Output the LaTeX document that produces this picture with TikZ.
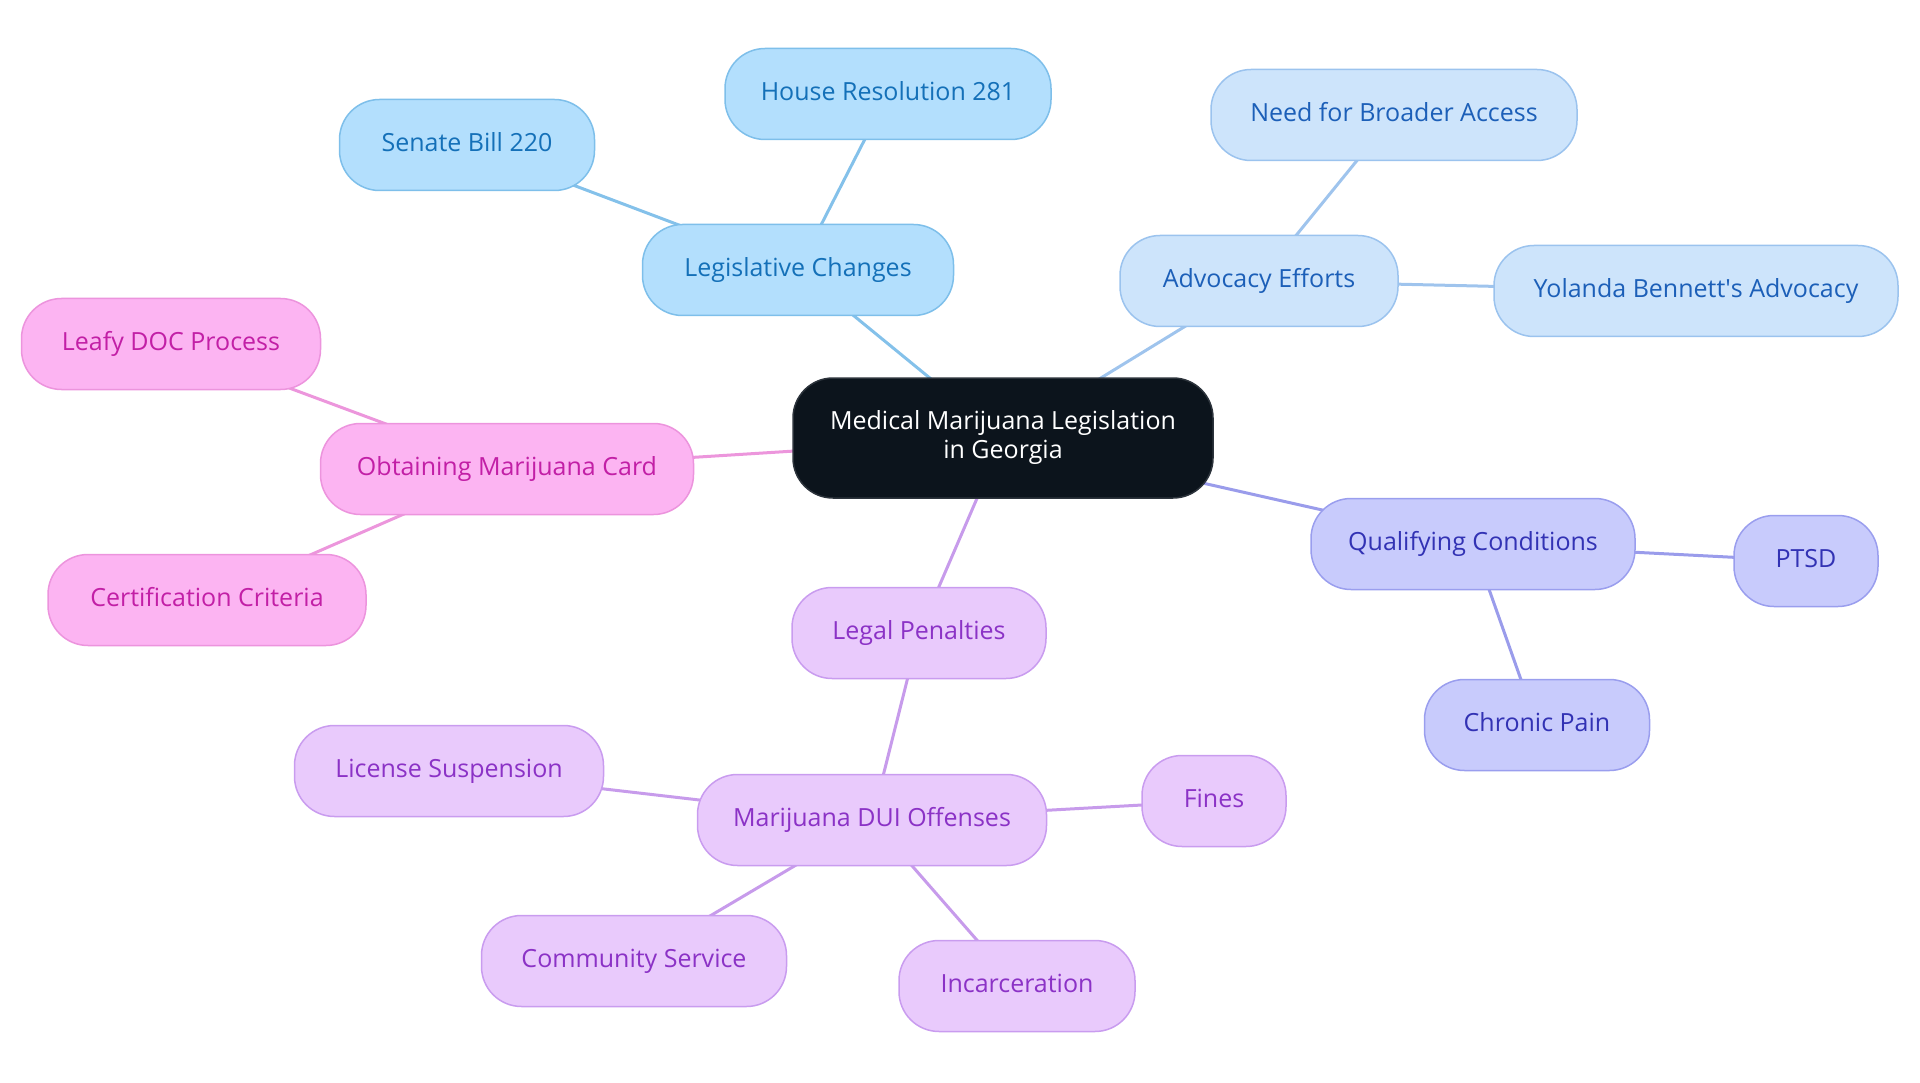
\documentclass[tikz,border=0pt]{standalone}
\usepackage{fontspec}
\setmainfont{Open Sans}
\usetikzlibrary{backgrounds}
\definecolor{legF}{HTML}{B3DFFD}\definecolor{legD}{HTML}{7EBFEA}\definecolor{legT}{HTML}{1470B8}\definecolor{legL}{HTML}{84C1EA}
\definecolor{advF}{HTML}{CDE4FB}\definecolor{advD}{HTML}{9BC3EE}\definecolor{advT}{HTML}{1C5FB8}\definecolor{advL}{HTML}{9FC4ED}
\definecolor{quaF}{HTML}{C8CBFC}\definecolor{quaD}{HTML}{9A9EEE}\definecolor{quaT}{HTML}{3232B4}\definecolor{quaL}{HTML}{9A9CEB}
\definecolor{lpeF}{HTML}{E9CAFC}\definecolor{lpeD}{HTML}{C99CEF}\definecolor{lpeT}{HTML}{8B32C6}\definecolor{lpeL}{HTML}{C79BEB}
\definecolor{carF}{HTML}{FCB4F2}\definecolor{carD}{HTML}{EC94DD}\definecolor{carT}{HTML}{C21FA6}\definecolor{carL}{HTML}{EC96DC}
\definecolor{ctrF}{HTML}{0C141C}\definecolor{ctrD}{HTML}{2C333B}
\tikzset{
  box/.style={rounded corners=40pt, line width=1.5pt, minimum height=91pt, inner xsep=30pt,
    font=\fontsize{25}{30}\selectfont, text height=18pt, text depth=5pt},
  legbox/.style={box, fill=legF, draw=legD, text=legT},
  advbox/.style={box, fill=advF, draw=advD, text=advT},
  quabox/.style={box, fill=quaF, draw=quaD, text=quaT},
  lpebox/.style={box, fill=lpeF, draw=lpeD, text=lpeT},
  carbox/.style={box, fill=carF, draw=carD, text=carT},
  ctrbox/.style={rounded corners=40pt, line width=1.5pt, fill=ctrF, draw=ctrD, text=white,
    minimum height=120pt, minimum width=420pt, align=center, font=\fontsize{25}{29}\selectfont},
  conn/.style={line width=3pt},
}
\begin{document}
\begin{tikzpicture}[x=1pt,y=-1pt]
\useasboundingbox (0,0) rectangle (1920,1083);
\node[ctrbox] (ctr) at (1003,438) {Medical Marijuana Legislation\\in Georgia};
\node[legbox, minimum width=311pt] (leg) at (798,270) {Legislative Changes};
\node[legbox, minimum width=255pt] (sb) at (467,145) {Senate Bill 220};
\node[legbox, minimum width=326pt] (hr) at (888,94) {House Resolution 281};
\node[advbox, minimum width=278pt] (adv) at (1259,281) {Advocacy Efforts};
\node[advbox, minimum width=366pt] (need) at (1394,115) {Need for Broader Access};
\node[advbox, minimum width=404pt] (yol) at (1696,291) {Yolanda Bennett\textquotesingle s Advocacy};
\node[quabox, minimum width=324pt] (qua) at (1473,544) {Qualifying Conditions};
\node[quabox, minimum width=144pt] (ptsd) at (1806,561) {PTSD};
\node[quabox, minimum width=225pt] (chr) at (1537,725) {Chronic Pain};
\node[lpebox, minimum width=254pt] (lpe) at (919,633) {Legal Penalties};
\node[lpebox, minimum width=349pt] (dui) at (872,820) {Marijuana DUI Offenses};
\node[lpebox, minimum width=309pt] (lic) at (449,771) {License Suspension};
\node[lpebox, minimum width=144pt] (fin) at (1214,801) {Fines};
\node[lpebox, minimum width=305pt] (com) at (634,961) {Community Service};
\node[lpebox, minimum width=236pt] (inc) at (1017,986) {Incarceration};
\node[carbox, minimum width=373pt] (car) at (507,469) {Obtaining Marijuana Card};
\node[carbox, minimum width=299pt] (lea) at (171,344) {Leafy DOC Process};
\node[carbox, minimum width=318pt] (cer) at (207,600) {Certification Criteria};
\begin{pgfonlayer}{background}
\draw[conn, legL] (ctr.center) -- (leg.center);
\draw[conn, legL] (leg.center) -- (sb.center);
\draw[conn, legL] (leg.center) -- (hr.center);
\draw[conn, advL] (ctr.center) -- (adv.center);
\draw[conn, advL] (adv.center) -- (need.center);
\draw[conn, advL] (adv.center) -- (yol.center);
\draw[conn, quaL] (ctr.center) -- (qua.center);
\draw[conn, quaL] (qua.center) -- (ptsd.center);
\draw[conn, quaL] (qua.center) -- (chr.center);
\draw[conn, lpeL] (ctr.center) -- (lpe.center);
\draw[conn, lpeL] (lpe.center) -- (dui.center);
\draw[conn, lpeL] (dui.center) -- (lic.center);
\draw[conn, lpeL] (dui.center) -- (fin.center);
\draw[conn, lpeL] (dui.center) -- (com.center);
\draw[conn, lpeL] (dui.center) -- (inc.center);
\draw[conn, carL] (ctr.center) -- (car.center);
\draw[conn, carL] (car.center) -- (lea.center);
\draw[conn, carL] (car.center) -- (cer.center);
\end{pgfonlayer}
\end{tikzpicture}
\end{document}
